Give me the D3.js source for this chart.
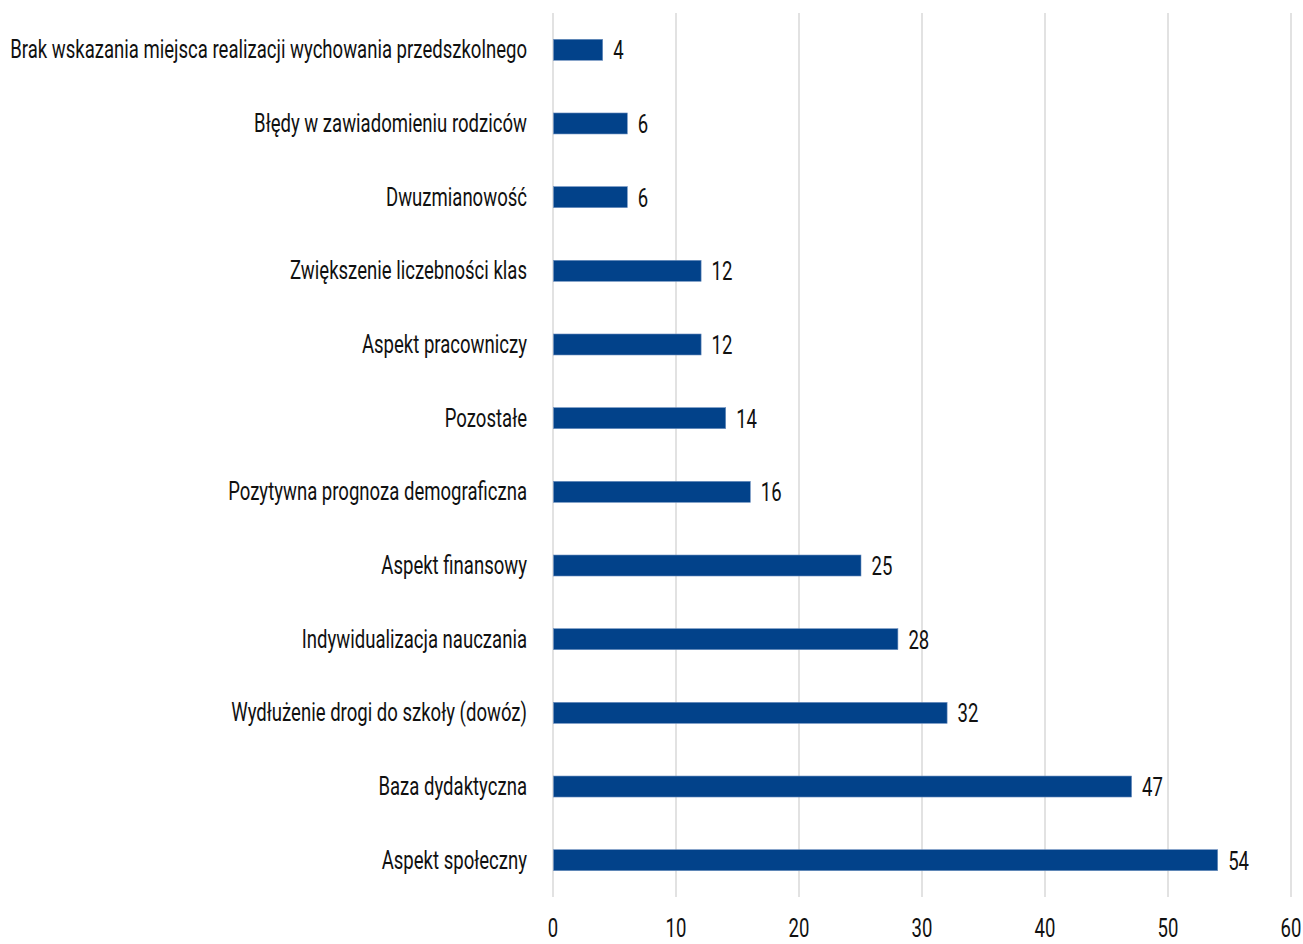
<!DOCTYPE html>
<html>
<head>
<meta charset="utf-8">
<script src="https://cdn.jsdelivr.net/npm/d3@7"></script>
<style>
  body { margin: 0; background: #fff; }
  text { font-family: "Roboto", "Liberation Sans", sans-serif; fill: #111; }
</style>
</head>
<body>
<svg width="1303" height="944"></svg>
<script>
var categories = [
  "Brak wskazania miejsca realizacji wychowania przedszkolnego",
  "Błędy w zawiadomieniu rodziców",
  "Dwuzmianowość",
  "Zwiększenie liczebności klas",
  "Aspekt pracowniczy",
  "Pozostałe",
  "Pozytywna prognoza demograficzna",
  "Aspekt finansowy",
  "Indywidualizacja nauczania",
  "Wydłużenie drogi do szkoły (dowóz)",
  "Baza dydaktyczna",
  "Aspekt społeczny"
];
var values = [4, 6, 6, 12, 12, 14, 16, 25, 28, 32, 47, 54];
var ticks = [0, 10, 20, 30, 40, 50, 60];

var svg = d3.select("svg"),
    margin = {top: 13, right: 13, bottom: 47, left: 553},
    width = +svg.attr("width"),
    height = +svg.attr("height"),
    chartWidth = width - (margin.left + margin.right),
    chartHeight = height - (margin.top + margin.bottom);

var g = svg.append("g")
    .attr("transform", "translate(" + margin.left + "," + margin.top + ")");

var x = d3.scaleLinear().domain([0, 60]).range([0, 738]);
var y = d3.scaleBand().domain(categories).range([0, chartHeight]).paddingInner(0.715).paddingOuter(0.357);

// gridlines
g.selectAll("line.grid")
    .data(ticks)
    .enter()
    .append("line")
    .attr("class", "grid")
    .attr("x1", function(d) { return x(d); })
    .attr("x2", function(d) { return x(d); })
    .attr("y1", 0)
    .attr("y2", chartHeight)
    .attr("stroke", "#d9d9d9")
    .attr("stroke-width", 1.5);

// bars
g.selectAll("rect.bar")
    .data(values)
    .enter()
    .append("rect")
    .attr("class", "bar")
    .attr("x", x(0) + 0.5)
    .attr("y", function(d, i) { return y(categories[i]); })
    .attr("width", function(d) { return x(d) - x(0); })
    .attr("height", y.bandwidth())
    .attr("fill", "#02428a")
    .attr("stroke", "#6d8fbf")
    .attr("stroke-width", 0.6);

var fs = 26;

// squeeze the font so the longest label fits like the original (condensed face)
var probe = svg.append("text").attr("font-size", fs).text(categories[0]);
var sx = 517 / probe.node().getComputedTextLength();
probe.remove();

// category labels
g.selectAll("text.cat")
    .data(categories)
    .enter()
    .append("text")
    .attr("class", "cat")
    .attr("text-anchor", "end")
    .attr("dominant-baseline", "central")
    .attr("font-size", fs)
    .attr("transform", function(d) {
      return "translate(-26," + (y(d) + y.bandwidth() / 2) + ") scale(" + sx + ",1)";
    })
    .text(function(d) { return d; });

// value labels
g.selectAll("text.val")
    .data(values)
    .enter()
    .append("text")
    .attr("class", "val")
    .attr("dominant-baseline", "central")
    .attr("font-size", fs)
    .attr("transform", function(d, i) {
      return "translate(" + (x(d) + 11) + "," + (y(categories[i]) + y.bandwidth() / 2 + 1) + ") scale(" + sx + ",1)";
    })
    .text(function(d) { return d; });

// x tick labels
g.selectAll("text.tick")
    .data(ticks)
    .enter()
    .append("text")
    .attr("class", "tick")
    .attr("text-anchor", "middle")
    .attr("dominant-baseline", "central")
    .attr("font-size", fs)
    .attr("transform", function(d) {
      return "translate(" + x(d) + "," + (chartHeight + 31) + ") scale(" + sx + ",1)";
    })
    .text(function(d) { return d; });
</script>
</body>
</html>
